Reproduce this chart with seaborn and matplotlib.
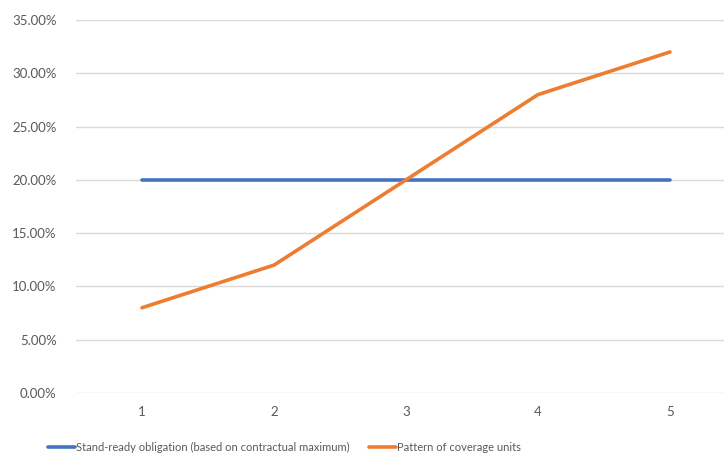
import matplotlib
matplotlib.use("Agg")
import matplotlib.pyplot as plt
import seaborn as sns
import pandas as pd
from matplotlib.ticker import PercentFormatter

periods = [1, 2, 3, 4, 5]
stand_ready = [20, 20, 20, 20, 20]
coverage_units = [8, 12, 20, 28, 32]
series_names = ["Stand-ready obligation (based on contractual maximum)",
                "Pattern of coverage units"]
y_ticks = [0, 5, 10, 15, 20, 25, 30, 35]

df = pd.DataFrame({
    "period": periods * 2,
    "value": stand_ready + coverage_units,
    "series": [series_names[0]] * len(periods) + [series_names[1]] * len(periods),
})

sns.set_style("white")
plt.rcParams["font.family"] = ["Lato", "DejaVu Sans"]

fig = plt.figure(figsize=(7.24, 4.55), dpi=100)
ax = fig.add_axes([76 / 724, 62 / 455, 1 - 76 / 724, (393 - 20) / 455])

sns.lineplot(data=df, x="period", y="value", hue="series",
             palette=["#4472C4", "#ED7D31"], linewidth=2.6, ax=ax,
             legend=False)

ax.set_xlim(0.5, 0.5 + (724 - 76) / 132)
ax.set_ylim(0, 35)
ax.set_yticks(y_ticks)
ax.set_xticks(periods)
ax.yaxis.set_major_formatter(PercentFormatter(decimals=2))
ax.grid(axis="y", color="#D9D9D9", linewidth=1)
ax.set_axisbelow(True)
for s in ax.spines.values():
    s.set_visible(False)
ax.set_xlabel("")
ax.set_ylabel("")
ax.tick_params(axis="both", length=0, labelsize=9.5, labelcolor="#595959")
ax.tick_params(axis="y", pad=14)
ax.tick_params(axis="x", pad=9)

handles = [plt.Line2D([], [], color=c, linewidth=2.6) for c in ["#4472C4", "#ED7D31"]]
fig.legend(handles, series_names, loc="lower left", bbox_to_anchor=(48 / 724, 0.004),
           ncol=2, frameon=False, labelcolor="#595959", fontsize=8,
           borderpad=0, borderaxespad=0,
           handlelength=2.4, handletextpad=0.15, columnspacing=1.7)

fig.savefig("out.png", dpi=100, facecolor="white")
